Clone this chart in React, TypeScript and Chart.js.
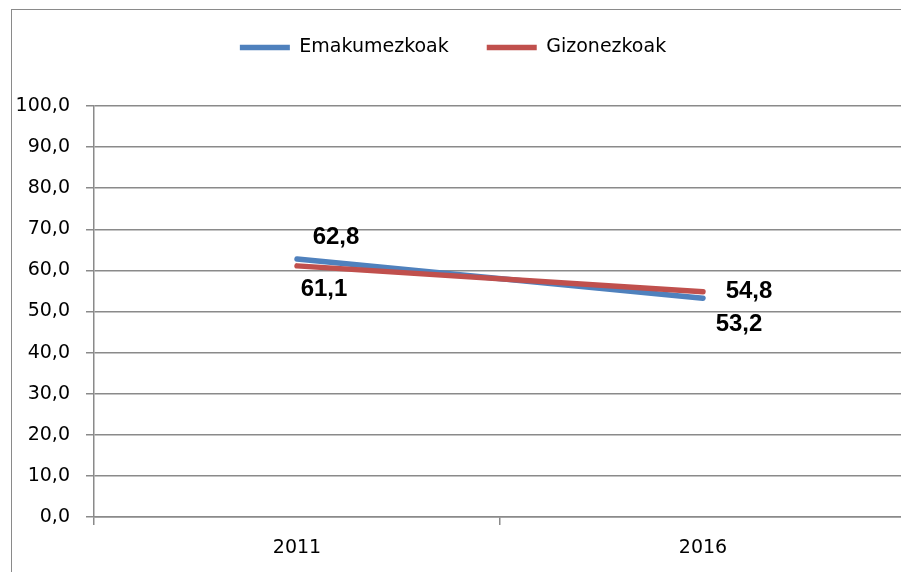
import React, { useEffect, useRef } from "react";
import { Chart, registerables } from "chart.js";

Chart.register(...registerables);

const categories: string[] = ["2011", "2016"];
const women: number[] = [62.8, 53.2];
const men: number[] = [61.1, 54.8];
const seriesNames: string[] = ["Emakumezkoak", "Gizonezkoak"];
const yTicks = { min: 0, max: 100, step: 10 };

// label offsets (px) relative to each point, per series
const labelOffsets: number[][][] = [
  [[39, -22], [36, 26]],
  [[27, 23], [46, 0]],
];

const fmt = (v: number) => v.toFixed(1).replace(".", ",");

const FONT = "'DejaVu Sans', sans-serif";
const GRID = "#8a8a8a";

const dataLabelPlugin = {
  id: "dataLabels",
  afterDatasetsDraw(chart: any) {
    const ctx = chart.ctx;
    ctx.save();
    ctx.font = "bold 24px 'Liberation Sans', Arial, sans-serif";
    ctx.fillStyle = "#000";
    ctx.textAlign = "center";
    ctx.textBaseline = "middle";
    chart.data.datasets.forEach((ds: any, di: number) => {
      const meta = chart.getDatasetMeta(di);
      meta.data.forEach((pt: any, i: number) => {
        const off = labelOffsets[di][i];
        ctx.fillText(fmt(ds.data[i]), pt.x + off[0], pt.y + off[1]);
      });
    });
    ctx.restore();
  },
};

const legendHeightPlugin = {
  id: "legendHeight",
  beforeInit(chart: any) {
    const legend = chart.legend;
    if (!legend) return;
    const orig = legend.fit;
    legend.fit = function () {
      orig.call(this);
      this.height = 106;
    };
  },
};

export default function App() {
  const ref = useRef<HTMLCanvasElement | null>(null);
  useEffect(() => {
    document.body.style.margin = "0";
    document.body.style.overflow = "hidden";
    const canvas = ref.current!;
    const chart = new Chart(canvas, {
      type: "line",
      data: {
        labels: categories,
        datasets: [
          {
            label: seriesNames[0],
            data: women,
            borderColor: "#4F81BD",
            backgroundColor: "#4F81BD",
            borderWidth: 5.5,
            borderCapStyle: "round",
            pointRadius: 0,
            pointHoverRadius: 0,
            order: 1,
          },
          {
            label: seriesNames[1],
            data: men,
            borderColor: "#C0504D",
            backgroundColor: "#C0504D",
            borderWidth: 5.5,
            borderCapStyle: "round",
            pointRadius: 0,
            pointHoverRadius: 0,
            order: 0,
          },
        ],
      },
      options: {
        responsive: false,
        animation: false,
        devicePixelRatio: 1,
        layout: { padding: { left: 0, right: 4, top: 0, bottom: 0 } },
        plugins: {
          tooltip: { enabled: false },
          legend: {
            position: "top",
            align: "center",
            labels: {
              usePointStyle: true,
              pointStyle: "line",
              pointStyleWidth: 50,
              padding: 38,
              color: "#000",
              font: { family: FONT, size: 19 },
              sort: (a: any, b: any) => a.datasetIndex - b.datasetIndex,
            },
          },
        },
        scales: {
          x: {
            type: "category",
            offset: true,
            afterFit: (s: any) => {
              s.height = 55;
            },
            grid: {
              offset: true,
              drawOnChartArea: false,
              drawTicks: true,
              tickLength: 8,
              color: GRID,
              lineWidth: 1.5,
            },
            border: { display: true, color: GRID, width: 1.5 },
            ticks: {
              color: "#000",
              font: { family: FONT, size: 19 },
              padding: 12,
              maxRotation: 0,
            },
          },
          y: {
            min: yTicks.min,
            max: yTicks.max,
            afterFit: (s: any) => {
              s.width = 94;
            },
            grid: {
              color: GRID,
              lineWidth: 1.5,
              drawTicks: true,
              tickLength: 8,
            },
            border: { display: true, color: GRID, width: 1.5 },
            ticks: {
              stepSize: yTicks.step,
              color: "#000",
              font: { family: FONT, size: 19 },
              padding: 16,
              callback: (v: any) => fmt(Number(v)),
            },
          },
        },
      },
      plugins: [legendHeightPlugin, dataLabelPlugin],
    } as any);
    return () => chart.destroy();
  }, []);

  return (
    <div
      style={{
        position: "relative",
        width: 901,
        height: 572,
        overflow: "hidden",
        background: "#fff",
      }}
    >
      <div
        style={{
          position: "absolute",
          left: 11,
          top: 9,
          width: 940,
          height: 620,
          border: "1.5px solid #8a8a8a",
          boxSizing: "border-box",
        }}
      />
      <canvas
        ref={ref}
        width={910}
        height={572}
        style={{ position: "absolute", left: 0, top: 0, display: "block" }}
      />
    </div>
  );
}
